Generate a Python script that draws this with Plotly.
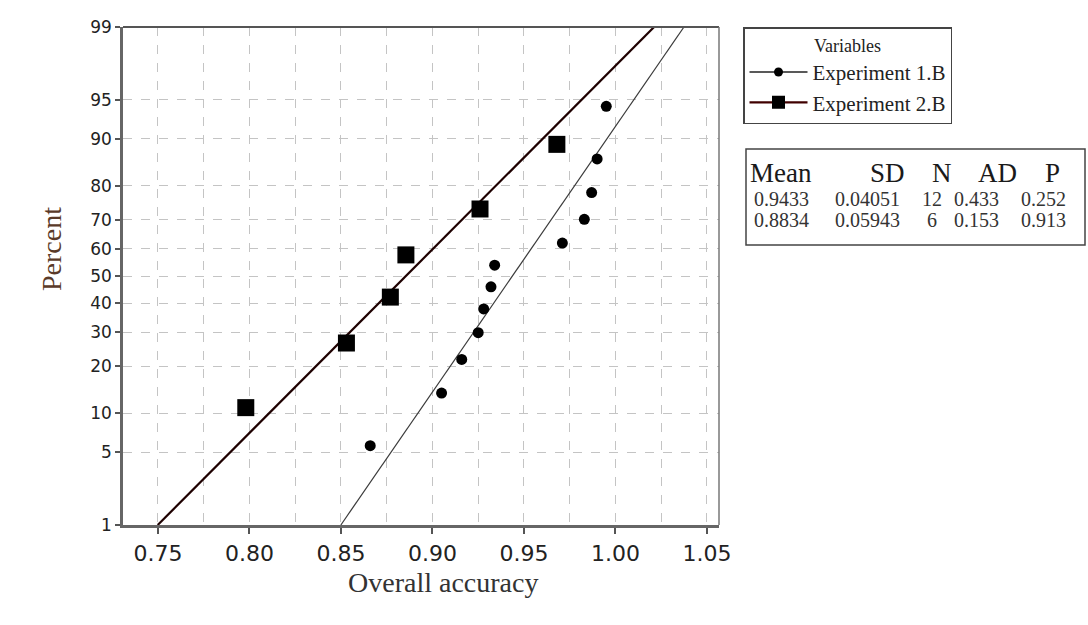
import plotly.graph_objects as go
from statistics import NormalDist

nd = NormalDist()

# ---------------- data ----------------
exp1_values = [0.866, 0.905, 0.916, 0.925, 0.928, 0.932, 0.934, 0.971, 0.983, 0.987, 0.990, 0.995]
exp2_values = [0.798, 0.853, 0.877, 0.8855, 0.926, 0.968]
series_names = ["Experiment 1.B", "Experiment 2.B"]

# fitted normal lines (location / scale as drawn)
fit_mean = [0.9437, 0.8855]
fit_sd = [0.0403, 0.0583]

percent_ticks = [1, 5, 10, 20, 30, 40, 50, 60, 70, 80, 90, 95, 99]
x_ticks = [0.75, 0.80, 0.85, 0.90, 0.95, 1.00, 1.05]
x_tick_labels = ["0.75", "0.80", "0.85", "0.90", "0.95", "1.00", "1.05"]

table_header = ["Mean", "SD", "N", "AD", "P"]
table_rows = [
    ["0.9433", "0.04051", "12", "0.433", "0.252"],
    ["0.8834", "0.05943", "6", "0.153", "0.913"],
]


def median_ranks(n):
    return [(i - 0.3) / (n + 0.4) for i in range(1, n + 1)]


def z(p):
    return nd.inv_cdf(p)


exp1_z = [z(p) for p in median_ranks(len(exp1_values))]
exp2_z = [z(p) for p in median_ranks(len(exp2_values))]

z_lo, z_hi = z(0.01), z(0.99)
line_z = [z_lo, z_hi]

fig = go.Figure()

# fitted lines
line_colors = ["#3a3a3a", "#1e0000"]
line_widths = [1.2, 2.2]
for k in range(2):
    fig.add_trace(go.Scatter(
        x=[fit_mean[k] + zz * fit_sd[k] for zz in line_z], y=line_z,
        mode="lines", line=dict(color=line_colors[k], width=line_widths[k]),
        showlegend=False, hoverinfo="skip"))

# points
fig.add_trace(go.Scatter(x=exp1_values, y=exp1_z, mode="markers",
                         marker=dict(symbol="circle", size=11, color="black"),
                         showlegend=False))
fig.add_trace(go.Scatter(x=exp2_values, y=exp2_z, mode="markers",
                         marker=dict(symbol="square", size=17, color="black"),
                         showlegend=False))

# legend entries
fig.add_trace(go.Scatter(x=[None], y=[None], mode="lines+markers", name=series_names[0],
                         line=dict(color="#222", width=1.5),
                         marker=dict(symbol="circle", size=9, color="black")))
fig.add_trace(go.Scatter(x=[None], y=[None], mode="lines+markers", name=series_names[1],
                         line=dict(color="#400000", width=2.2),
                         marker=dict(symbol="square", size=13, color="black")))

grid_col = "#c4c4c4"
fig.update_xaxes(
    range=[0.7309, 1.0566], tickvals=x_ticks, ticktext=x_tick_labels,
    ticks="outside", ticklen=6, tickwidth=1.5, tickcolor="#555",
    showline=True, linecolor="#666", linewidth=2.5,
    showgrid=True, gridcolor=grid_col, griddash="dash", gridwidth=1,
    minor=dict(dtick=0.025, tick0=0.75, showgrid=True, gridcolor=grid_col,
               griddash="dash", gridwidth=1, ticks=""),
    zeroline=False, ticklabelstandoff=1,
    tickfont=dict(family="DejaVu Sans", size=22, color="#222"),
)
fig.update_yaxes(
    range=[z_lo, z_hi], tickvals=[z(p / 100) for p in percent_ticks],
    ticktext=[str(p) for p in percent_ticks],
    ticks="outside", ticklen=5, tickwidth=1.5, tickcolor="#555",
    showline=True, linecolor="#666", linewidth=2.5,
    showgrid=True, gridcolor=grid_col, griddash="dash", gridwidth=1,
    zeroline=False,
    tickfont=dict(family="DejaVu Sans", size=17, color="#222"),
)

L, R, T, B = 123, 719, 27, 525
W, H = R - L, B - T


def px(xp):
    return (xp - L) / W


def py(yp):
    return (B - yp) / H


def ann(text, xp, yp, size, color="#222", angle=0, family="Liberation Serif"):
    return dict(text=text, x=px(xp), y=py(yp), xref="paper", yref="paper",
                xanchor="center", yanchor="middle", showarrow=False, textangle=angle,
                font=dict(family=family, size=size, color=color))


annotations = [
    ann("Overall accuracy", 443, 582, 28, "#333"),
    ann("Percent", 51, 249, 28, "#5a3a28", -90),
]

col_x = [781, 867, 932, 976, 1043]
head_x = [781, 887, 942, 997, 1052]
for c, h in enumerate(table_header):
    annotations.append(ann(h, head_x[c], 173, 27, "#1a1a1a"))
row_y = [199, 220]
for r, row in enumerate(table_rows):
    for c, v in enumerate(row):
        annotations.append(ann(v, col_x[c], row_y[r], 20, "#333"))

shapes = [
    dict(type="rect", xref="paper", yref="paper", x0=px(746), x1=px(1085), y0=py(149), y1=py(245),
         line=dict(color="#444", width=1.5)),
    dict(type="line", xref="paper", yref="paper", x0=0, x1=1, y0=1, y1=1,
         line=dict(color="#555", width=2)),
    dict(type="line", xref="paper", yref="paper", x0=1, x1=1, y0=0, y1=1,
         line=dict(color="#777", width=1.5)),
]

fig.update_layout(
    width=1088, height=625,
    margin=dict(l=L, r=1088 - R, t=T, b=625 - B),
    plot_bgcolor="white", paper_bgcolor="white",
    annotations=annotations, shapes=shapes,
    legend=dict(x=px(743), y=1.0, xanchor="left", yanchor="top",
                bordercolor="#444", borderwidth=1.5, bgcolor="white",
                title=dict(text="Variables", side="top center",
                           font=dict(family="Liberation Serif", size=18, color="#222")),
                font=dict(family="Liberation Serif", size=21, color="#222"),
                tracegroupgap=0, itemwidth=58),
    showlegend=True,
)

fig.write_html("out.html")
